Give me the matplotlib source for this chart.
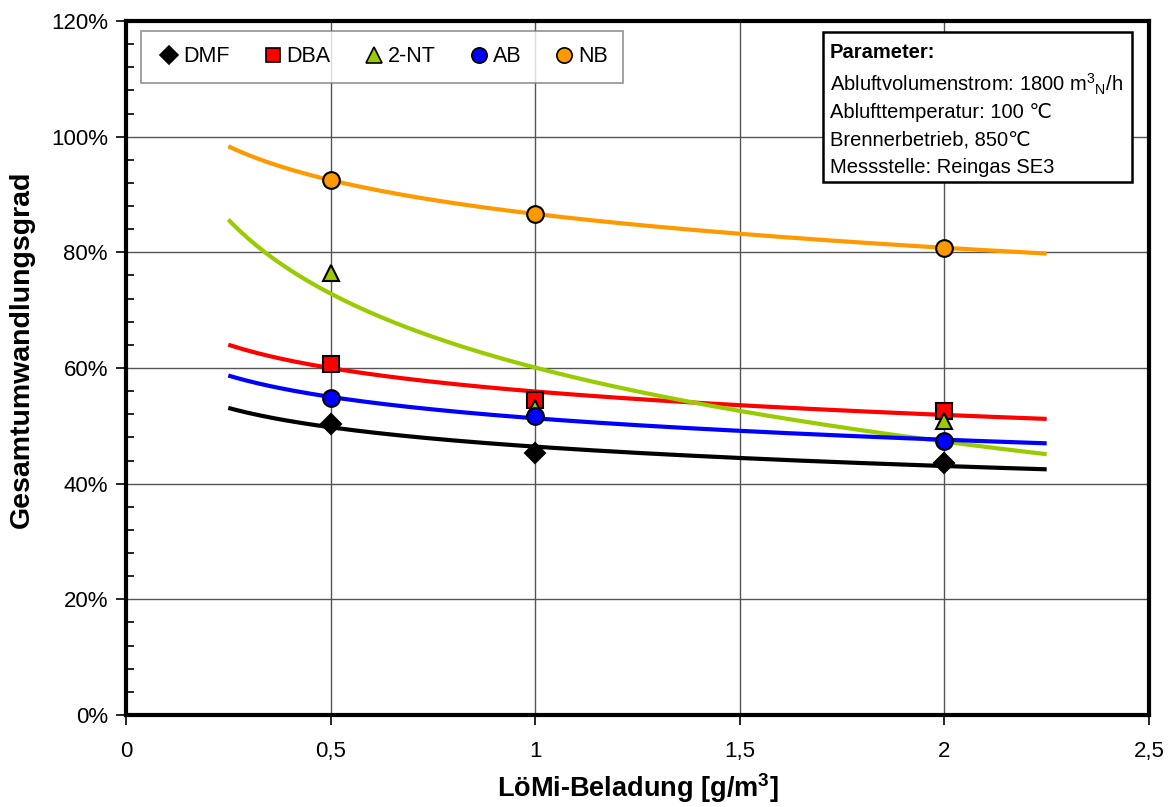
import numpy as np
import matplotlib
matplotlib.use("Agg")
import matplotlib.pyplot as plt
from matplotlib.lines import Line2D
from matplotlib.ticker import FixedLocator, FuncFormatter, MultipleLocator

plt.rcParams['font.family'] = ['Liberation Sans', 'DejaVu Sans']
plt.rcParams['mathtext.fontset'] = 'custom'
plt.rcParams['mathtext.rm'] = 'Liberation Sans'
plt.rcParams['mathtext.bf'] = 'Liberation Sans:bold'

# Messwerte (LöMi-Beladung in g/m3, Umwandlungsgrad in %)
beladung = [0.5, 1.0, 2.0]
dmf = [50.3, 45.3, 43.6]
dba = [60.7, 54.5, 52.6]
nt2 = [76.4, 53.0, 50.8]
ab = [54.8, 51.7, 47.4]
nb = [92.5, 86.6, 80.8]

names = ["DMF", "DBA", "2-NT", "AB", "NB"]
series = [dmf, dba, nt2, ab, nb]
colors = ["#000000", "#FF0000", "#99CC00", "#0000FF", "#FF9900"]
markers = ["D", "s", "^", "o", "o"]
msizes = [10, 11, 12, 12, 12]

x_ticks = [0, 0.5, 1, 1.5, 2, 2.5]
y_ticks = [0, 20, 40, 60, 80, 100, 120]

param_title = "Parameter:"
param_lines = ["Abluftvolumenstrom: 1800 m$^{3}$$_{\\mathrm{N}}$/h",
               "Ablufttemperatur: 100 \u2103",
               "Brennerbetrieb, 850\u2103",
               "Messstelle: Reingas SE3"]

fig = plt.figure(figsize=(11.71, 8.07), dpi=100)
ax = fig.add_axes([0.1076, 0.114, 0.8736, 0.86])

x = np.array(beladung)
xf = np.linspace(0.25, 2.25, 200)
# logarithmische Trendlinien wie in Excel
for vals, c in zip(series, colors):
    b, a = np.polyfit(np.log(x), np.array(vals), 1)
    ax.plot(xf, a + b * np.log(xf), color=c, lw=3, zorder=3, solid_capstyle='butt')

for vals, c, m, ms in zip(series, colors, markers, msizes):
    ax.plot(x, vals, linestyle='none', marker=m, ms=ms, mfc=c, mec='black',
            mew=1.5, zorder=4)

ax.set_xlim(0, 2.5)
ax.set_ylim(0, 120)
ax.xaxis.set_major_locator(FixedLocator(x_ticks))
ax.yaxis.set_major_locator(FixedLocator(y_ticks))
ax.yaxis.set_minor_locator(MultipleLocator(4))
ax.xaxis.set_major_formatter(FuncFormatter(lambda v, p: f"{v:g}".replace(".", ",")))
ax.yaxis.set_major_formatter(FuncFormatter(lambda v, p: f"{v:.0f}%"))
ax.tick_params(axis='both', which='major', direction='out', length=7, width=1.2,
               labelsize=16, pad=6)
ax.tick_params(axis='x', which='major', pad=12)
ax.tick_params(axis='y', which='minor', direction='in', length=6, width=1.2)
ax.grid(True, which='major', color='#555555', lw=1)
ax.set_axisbelow(True)
for s in ax.spines.values():
    s.set_linewidth(3)
    s.set_color('black')

ax.set_xlabel(r"LöMi-Beladung [g/m$^\mathbf{3}$]", fontsize=19.5, fontweight='bold', labelpad=6)
ax.set_ylabel("Gesamtumwandlungsgrad", fontsize=20.5, fontweight='bold')
ax.yaxis.set_label_coords(-0.089, 0.527)

handles = [Line2D([], [], linestyle='none', marker=m, ms=ms - 1, mfc=c, mec='black', mew=1.2)
           for c, m, ms in zip(colors, markers, msizes)]
leg = ax.legend(handles, names, ncol=5, loc='upper left', bbox_to_anchor=(0.0147, 0.985),
                borderaxespad=0, fontsize=15.5, frameon=True, fancybox=False,
                edgecolor='#777777', handletextpad=0.05, columnspacing=1.4,
                borderpad=0.7, handlelength=1.2)
leg.get_frame().set_linewidth(1.2)

# Parameterkasten
box = plt.Rectangle((0.681, 0.768), 0.302, 0.216, transform=ax.transAxes, fill=True,
                    facecolor='white', edgecolor='black', lw=1.8, zorder=5)
ax.add_patch(box)
ax.text(0.688, 0.955, param_title, transform=ax.transAxes, fontsize=14.5,
        fontweight='bold', va='center', ha='left', zorder=6)
for i, line in enumerate(param_lines):
    ax.text(0.688, 0.908 - i * 0.0395, line, transform=ax.transAxes, fontsize=14.5,
            va='center', ha='left', zorder=6)

fig.savefig("out.png", dpi=100)
